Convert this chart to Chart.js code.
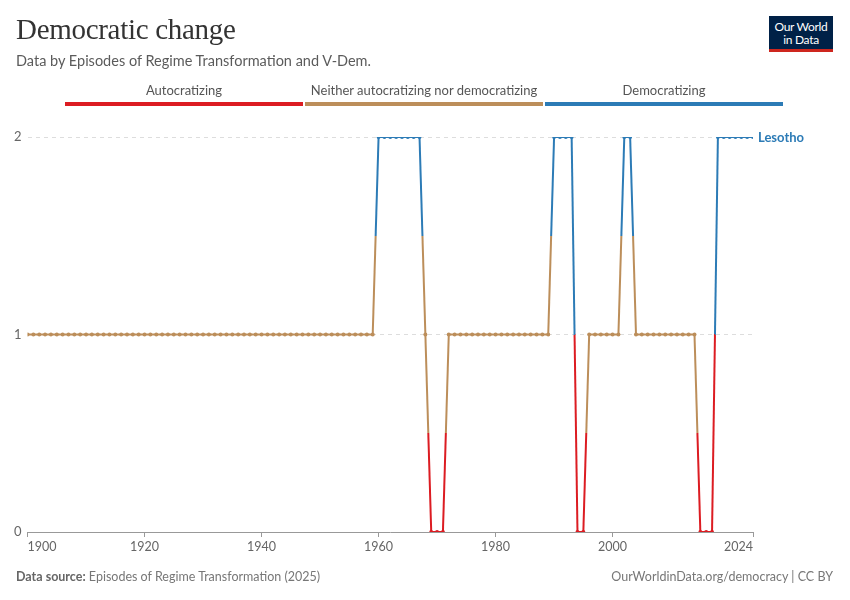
<!DOCTYPE html>
<html>
<head>
<meta charset="utf-8">
<script src="https://cdn.jsdelivr.net/npm/chart.js@4/dist/chart.umd.min.js"></script>
<style>
  body { margin: 0; background: #fff; font-family: Lato, "Noto Sans", sans-serif; }
  #wrap { position: relative; width: 850px; height: 600px; overflow: hidden; }
  #chart { position: absolute; left: 0; top: 0; }
  .title { position: absolute; left: 16px; top: 13px; font-family: "Liberation Serif", "DejaVu Serif", serif; font-size: 29px; color: #333; letter-spacing: -0.3px; }
  .subtitle { position: absolute; left: 16px; top: 52px; font-size: 14.5px; color: #5b5b5b; }
  .logo { position: absolute; left: 769px; top: 16px; width: 64px; height: 36px; background: #002147; border-bottom: 3px solid #ce261e; box-sizing: border-box; color: #fff; font-size: 12px; line-height: 13px; text-align: center; padding-top: 4px; letter-spacing: -0.3px; }
  .leg { position: absolute; top: 82px; font-size: 13px; color: #555; text-align: center; }
  .leg .bar { height: 4px; margin-top: 4px; }
  .foot { position: absolute; top: 569px; font-size: 12.5px; color: #777; }
  .foot b { color: #666; }
</style>
</head>
<body>
<div id="wrap">
  <canvas id="chart" width="850" height="600"></canvas>
  <div class="title">Democratic change</div>
  <div class="subtitle">Data by Episodes of Regime Transformation and V-Dem.</div>
  <div class="logo">Our World<br>in Data</div>
  <div id="legend"></div>
  <div class="foot" style="left:16px"><b>Data source:</b> Episodes of Regime Transformation (2025)</div>
  <div class="foot" style="right:17px">OurWorldinData.org/democracy | CC BY</div>
</div>
<script>
  /* ========== DATA ========== */
  const CATEGORIES = ["Autocratizing", "Neither autocratizing nor democratizing", "Democratizing"];
  const CAT_COLORS = ["#dc1c22", "#bc8e5a", "#2c7bb6"];
  const COUNTRY = "Lesotho";
  // value per year: 0 = autocratizing, 1 = neither, 2 = democratizing
  const YEARS = [];
  for (let y = 1900; y <= 2024; y++) YEARS.push(y);
  const VALUES = [
    // 1900-1959
    1,1,1,1,1,1,1,1,1,1, 1,1,1,1,1,1,1,1,1,1,
    1,1,1,1,1,1,1,1,1,1, 1,1,1,1,1,1,1,1,1,1,
    1,1,1,1,1,1,1,1,1,1, 1,1,1,1,1,1,1,1,1,1,
    // 1960-1969
    2,2,2,2,2,2,2,2,1,0,
    // 1970-1979
    0,0,1,1,1,1,1,1,1,1,
    // 1980-1989
    1,1,1,1,1,1,1,1,1,1,
    // 1990-1999
    2,2,2,2,0,0,1,1,1,1,
    // 2000-2009
    1,1,2,2,1,1,1,1,1,1,
    // 2010-2019
    1,1,1,1,1,0,0,0,2,2,
    // 2020-2024
    2,2,2,2,2
  ];
  const X_TICKS = [1900, 1920, 1940, 1960, 1980, 2000, 2024];
  const Y_TICKS = [0, 1, 2];

  /* ========== LEGEND ========== */
  const legendEl = document.getElementById("legend");
  const LEG_LEFT = 65, LEG_W = 240;
  CATEGORIES.forEach((c, i) => {
    const d = document.createElement("div");
    d.className = "leg";
    d.style.left = (LEG_LEFT + i * LEG_W) + "px";
    d.style.width = (LEG_W - 2) + "px";
    d.innerHTML = `<div>${c}</div><div class="bar" style="background:${CAT_COLORS[i]}"></div>`;
    legendEl.appendChild(d);
  });

  /* ========== CHART ========== */
  const canvas = document.getElementById("chart");
  const g = canvas.getContext("2d");

  // split each segment at its midpoint: first half in the start colour, second half in the end colour
  const segColor = (ctx) => {
    const c0 = CAT_COLORS[VALUES[ctx.p0DataIndex]];
    const c1 = CAT_COLORS[VALUES[ctx.p1DataIndex]];
    if (c0 === c1) return c0;
    const grad = g.createLinearGradient(ctx.p0.x, ctx.p0.y, ctx.p1.x, ctx.p1.y);
    grad.addColorStop(0, c0);
    grad.addColorStop(0.5, c0);
    grad.addColorStop(0.5, c1);
    grad.addColorStop(1, c1);
    return grad;
  };

  const extras = {
    id: "extras",
    afterDraw(chart) {
      const { ctx, scales } = chart;
      const xs = scales.x, area = chart.chartArea;
      ctx.save();
      ctx.font = "12.5px Lato, 'Noto Sans', sans-serif";
      ctx.fillStyle = "#666";
      ctx.textBaseline = "top";
      X_TICKS.forEach((t, i) => {
        const px = xs.getPixelForValue(t);
        ctx.textAlign = i === 0 ? "left" : i === X_TICKS.length - 1 ? "right" : "center";
        ctx.fillText(String(t), px, area.bottom + 9);
      });
      // end label
      const meta = chart.getDatasetMeta(0);
      const last = meta.data[meta.data.length - 1];
      ctx.font = "bold 13px Lato, 'Noto Sans', sans-serif";
      ctx.fillStyle = CAT_COLORS[VALUES[VALUES.length - 1]];
      ctx.textAlign = "left";
      ctx.textBaseline = "middle";
      ctx.fillText(COUNTRY, last.x + 5, last.y + 1);
      ctx.restore();
    }
  };

  new Chart(g, {
    type: "line",
    data: {
      datasets: [{
        label: COUNTRY,
        data: YEARS.map((y, i) => ({ x: y, y: VALUES[i] })),
        borderWidth: 2,
        pointRadius: 2,
        pointBorderWidth: 0,
        pointBackgroundColor: VALUES.map((v) => CAT_COLORS[v]),
        segment: { borderColor: segColor },
        tension: 0,
        fill: false,
      }],
    },
    options: {
      responsive: false,
      animation: false,
      layout: { padding: { top: 137, left: 8, right: 97, bottom: 63 } },
      plugins: { legend: { display: false }, tooltip: { enabled: false } },
      scales: {
        x: {
          type: "linear",
          min: 1900,
          max: 2024,
          afterBuildTicks: (s) => { s.ticks = X_TICKS.map((v) => ({ value: v })); },
          ticks: { display: false },
          grid: { drawOnChartArea: false, drawTicks: true, tickLength: 5, color: "#999" },
          border: { color: "#999", width: 1 },
        },
        y: {
          min: 0,
          max: 2,
          afterBuildTicks: (s) => { s.ticks = Y_TICKS.map((v) => ({ value: v })); },
          ticks: { color: "#666", padding: 6, font: { size: 13, family: "Lato" } },
          grid: {
            color: (c) => (c.tick && c.tick.value === 0 ? "transparent" : "#dddddd"),
            drawTicks: false,
          },
          border: { display: false, dash: [4, 4] },
        },
      },
    },
    plugins: [extras],
  });
</script>
</body>
</html>
